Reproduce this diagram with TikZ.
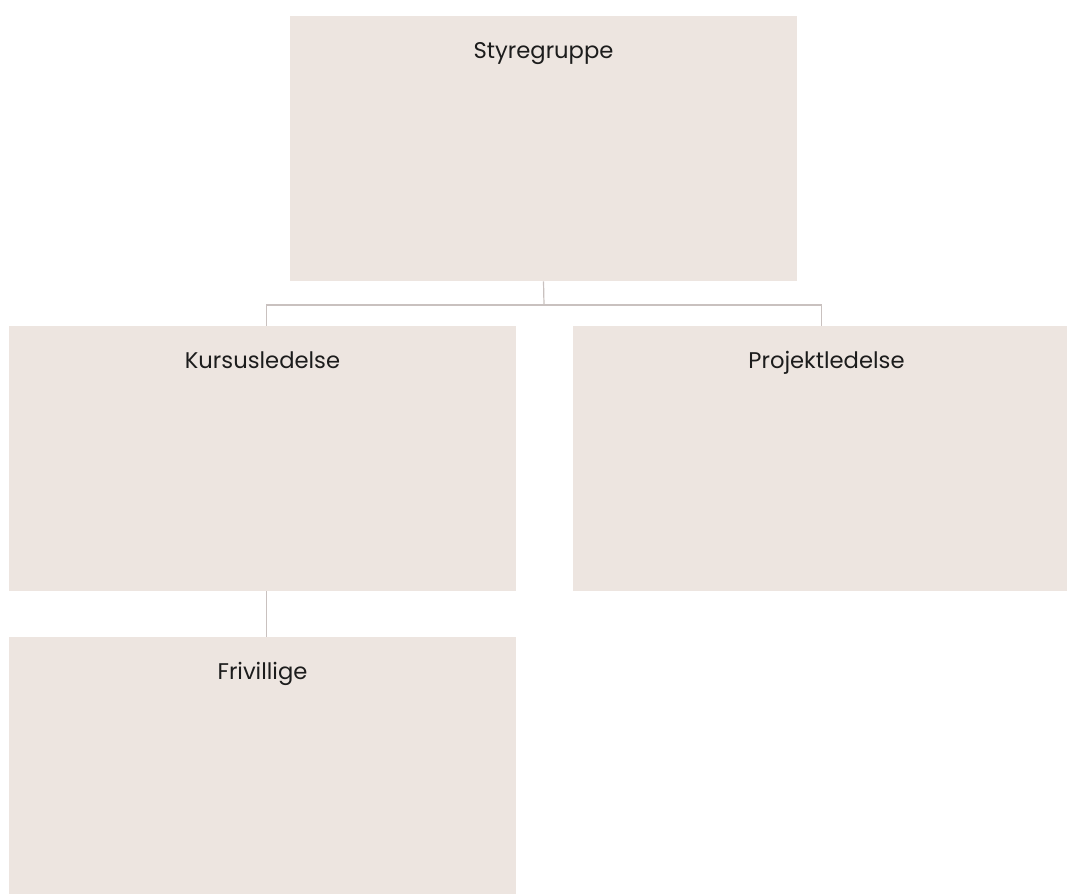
\documentclass[tikz,border=0pt]{standalone}
\usepackage{fontspec}
\setmainfont{Poppins}
\definecolor{boxfill}{HTML}{EDE5E0}
\definecolor{linkgray}{HTML}{C9C1BF}
\definecolor{txt}{HTML}{1C1C1C}
\begin{document}
\begin{tikzpicture}[x=0.75pt,y=-0.75pt,
    box/.style={rectangle, fill=boxfill, inner sep=0pt,
      minimum width=380.25pt, minimum height=198.75pt},
    title/.style={anchor=base, yshift=-32pt, text=txt, font=\fontsize{17}{20}\selectfont},
    link/.style={draw=linkgray, line width=0.9pt}]
  \useasboundingbox (0,0) rectangle (1067,893);
  \draw
    (543.5,148.5) node[box, label={[title]north:Styregruppe}] (styre){}
    (262.5,458.5) node[box, label={[title]north:Kursusledelse}] (kurs){}
    (826.5,458.5) node[box, label={[title]north:Projektledelse}] (projekt){}
    (262.5,769.5) node[box, label={[title]north:Frivillige}] (frivil){};
  \coordinate (fork) at (544,305);
  \begin{scope}[link]
    \draw (styre.south) to (fork);
    \draw (fork) -| ([xshift=3pt]kurs.north);
    \draw (fork) -| ([xshift=-4pt]projekt.north);
    \draw ([xshift=3pt]kurs.south) to ([xshift=3pt]frivil.north);
  \end{scope}
\end{tikzpicture}
\end{document}
